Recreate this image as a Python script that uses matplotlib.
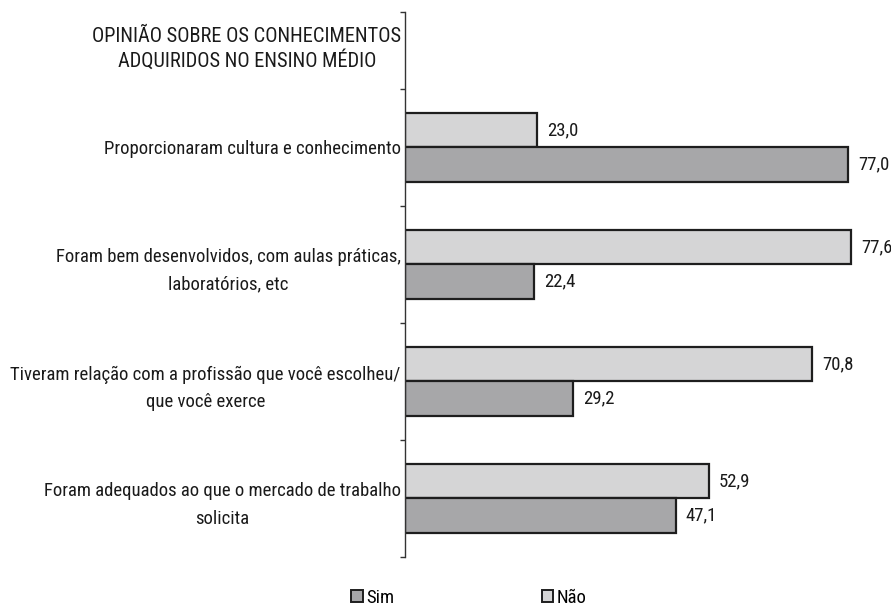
import numpy as np
import matplotlib.pyplot as plt
from matplotlib.patches import Patch

plt.rcParams['font.family'] = ['Roboto Condensed', 'DejaVu Sans']

# dados
categorias = [
    'Proporcionaram cultura e conhecimento',
    'Foram bem desenvolvidos, com aulas práticas,\nlaboratórios, etc',
    'Tiveram relação com a profissão que você escolheu/\nque você exerce',
    'Foram adequados ao que o mercado de trabalho\nsolicita',
]
sim = [77.0, 22.4, 29.2, 47.1]
nao = [23.0, 77.6, 70.8, 52.9]
titulo = 'OPINIÃO SOBRE OS CONHECIMENTOS\nADQUIRIDOS NO ENSINO MÉDIO'

cor_sim = '#a7a7a9'
cor_nao = '#d5d5d6'
borda = '#1e1e1e'
cor_txt = '#1a1a1a'
fs = 13.5

fig = plt.figure(figsize=(8.91, 6.08), dpi=100)
ax = fig.add_axes([405 / 891, 1 - 557 / 608, 1 - 405 / 891, (557 - 12) / 608])

y = np.arange(len(categorias))
h = 0.295
ax.barh(y - h / 2, nao, height=h, color=cor_nao, edgecolor=borda, linewidth=1.6)
ax.barh(y + h / 2, sim, height=h, color=cor_sim, edgecolor=borda, linewidth=1.6)

for i in range(len(categorias)):
    ax.text(nao[i] + 1.7, y[i] - h / 2, f'{nao[i]:.1f}'.replace('.', ','),
            va='center', ha='left', fontsize=fs, color=cor_txt)
    ax.text(sim[i] + 1.7, y[i] + h / 2, f'{sim[i]:.1f}'.replace('.', ','),
            va='center', ha='left', fontsize=fs, color=cor_txt)

topo = 3.5 - (557 - 12) / 117
ax.set_xlim(0, (891 - 405) / 5.753)
ax.set_ylim(3.5, topo)

# ticks nas divisões, rótulos no centro
ax.set_yticks([topo, -0.5, 0.5, 1.5, 2.5, 3.5])
ax.set_yticklabels([])
ax.set_yticks(y, minor=True)
ax.set_yticklabels(categorias, minor=True, fontsize=fs, multialignment='center',
                   color=cor_txt, linespacing=1.65)
ax.tick_params(axis='y', which='major', length=3.5, width=1, color='#333333', direction='out')
ax.tick_params(axis='y', which='minor', length=0, pad=3)
ax.set_xticks([])

for s in ['top', 'right', 'bottom']:
    ax.spines[s].set_visible(False)
ax.spines['left'].set_color('#333333')
ax.spines['left'].set_linewidth(1)

fig.text(247 / 891, 1 - 49 / 608, titulo, ha='center', va='center', linespacing=1.2,
         fontsize=14.7, multialignment='center', color=cor_txt)

handles = [Patch(facecolor=cor_sim, edgecolor=borda, linewidth=1.4, label='Sim'),
           Patch(facecolor=cor_nao, edgecolor=borda, linewidth=1.4, label='Não')]
fig.legend(handles=handles, loc='center', bbox_to_anchor=(469 / 891, 1 - 598 / 608),
           ncol=2, frameon=False, fontsize=fs, handlelength=0.6, handleheight=0.6,
           handletextpad=0.2, columnspacing=7.85)

fig.savefig('out.png', dpi=100)
